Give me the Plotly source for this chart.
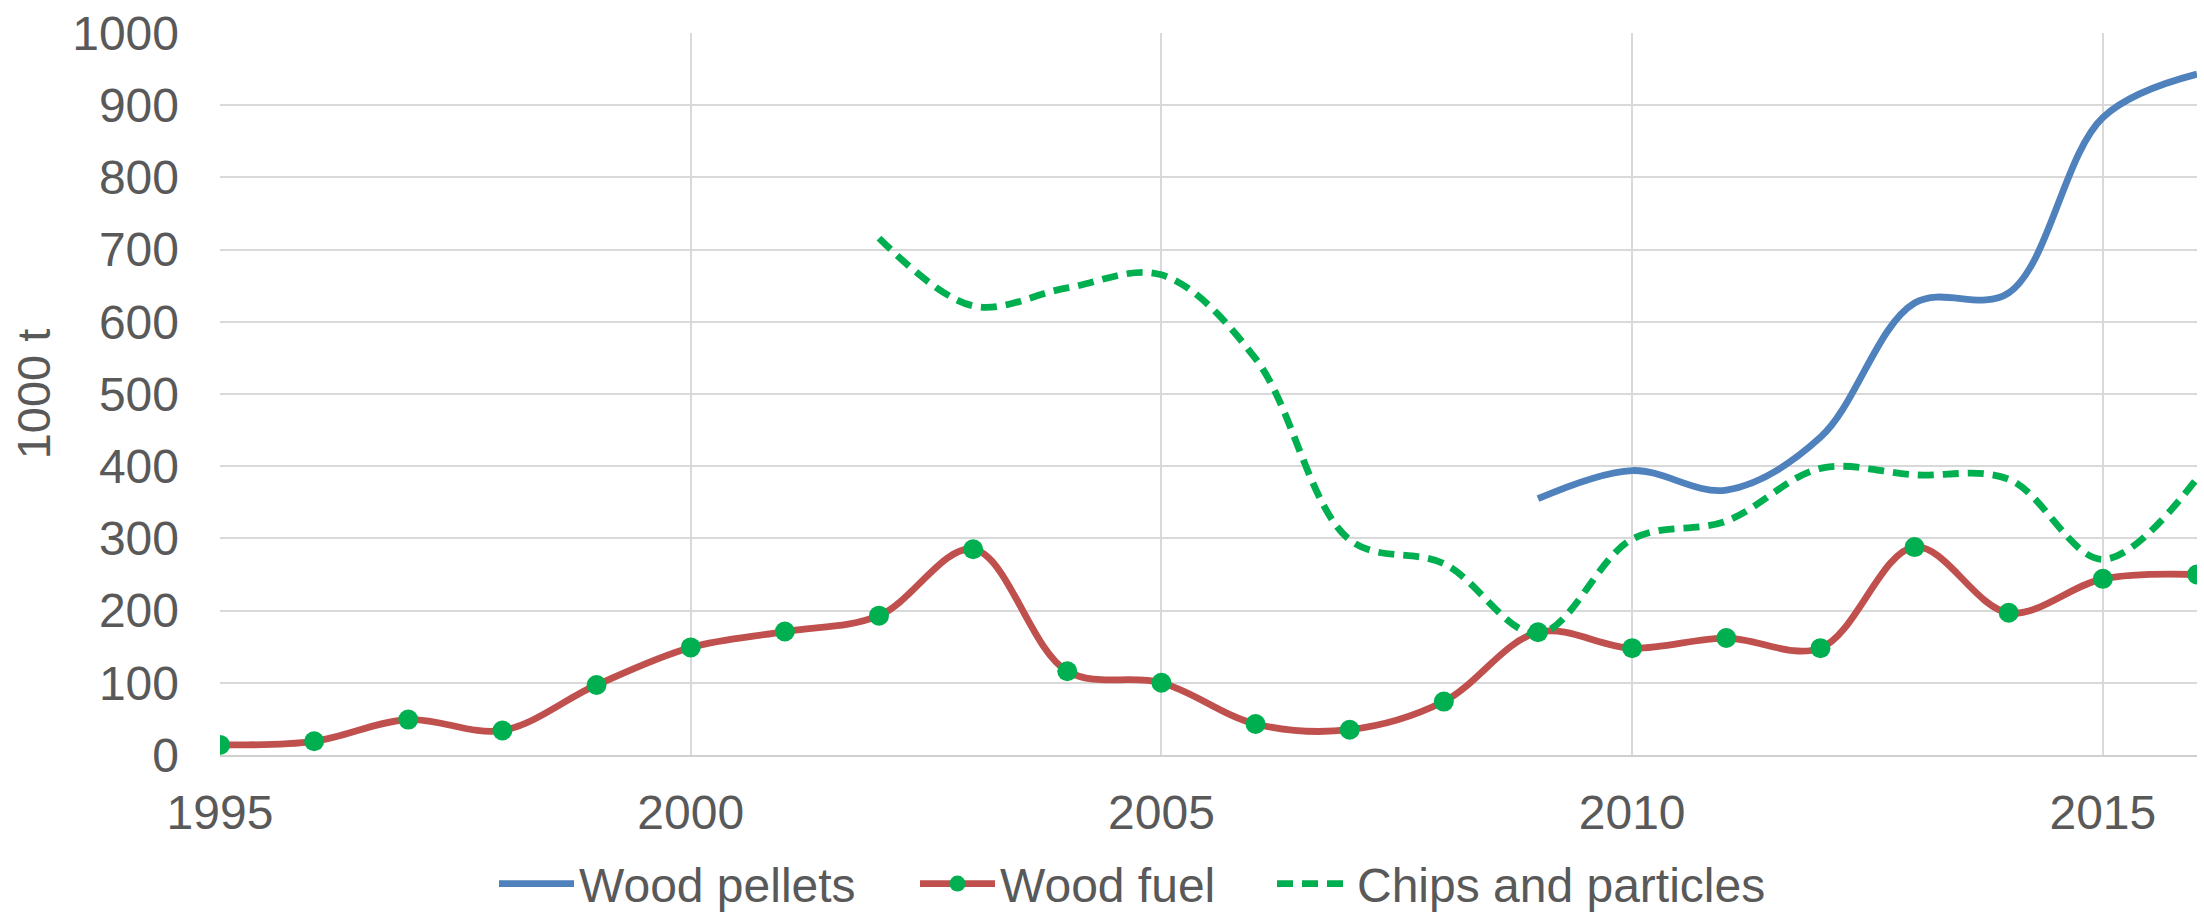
import plotly.graph_objects as go

# Annual volumes, 1000 t
years = list(range(1995, 2017))

wood_pellets = [None] * 14 + [355, 394, 367, 440, 626, 640, 883, 943]

wood_fuel = [14, 19, 49, 34, 97, 149, 171, 193, 285, 116, 100,
             43, 35, 74, 170, 148, 162, 148, 288, 197, 244, 250]

chips_particles = [None] * 7 + [716, 622, 647, 665, 549, 298, 265,
                                168, 299, 324, 397, 388, 382, 271, 383]

x_ticks = [1995, 2000, 2005, 2010, 2015]
y_ticks = list(range(0, 1001, 100))

FONT = "Liberation Sans, Arial, sans-serif"
TEXT = "#595959"
GRID = "#D9D9D9"
LW = 6.8

fig = go.Figure()

fig.add_trace(go.Scatter(
    x=years, y=wood_pellets, name="Wood pellets", mode="lines",
    line=dict(color="#4F81BD", width=LW, shape="spline", smoothing=1.0),
    connectgaps=False, legend="legend",
))
fig.add_trace(go.Scatter(
    x=years, y=wood_fuel, name="Wood fuel", mode="lines+markers",
    line=dict(color="#C0504D", width=LW, shape="spline", smoothing=1.0),
    marker=dict(color="#00B050", size=20, line=dict(width=0)),
    legend="legend2",
))
fig.add_trace(go.Scatter(
    x=years, y=chips_particles, name="Chips and particles", mode="lines",
    line=dict(color="#00B050", width=LW, shape="spline", smoothing=1.0,
              dash="16px,9px"),
    connectgaps=False, legend="legend3",
))


def legend_box(x_px):
    return dict(
        orientation="h", xref="container", yref="container",
        x=x_px / 2204, xanchor="left", y=0.033, yanchor="middle",
        font=dict(family=FONT, size=48, color=TEXT),
        itemwidth=75, itemsizing="trace",
        bgcolor="rgba(0,0,0,0)", borderwidth=0,
    )


fig.update_layout(
    width=2204, height=914,
    margin=dict(l=220, r=7, t=30, b=159),
    paper_bgcolor="white", plot_bgcolor="white",
    font=dict(family=FONT, size=48, color=TEXT),
    showlegend=True,
    legend=legend_box(494),
    legend2=legend_box(915),
    legend3=legend_box(1272),
    xaxis=dict(
        range=[1995, 2016], tickmode="array", tickvals=x_ticks,
        ticktext=[str(v) for v in x_ticks],
        showgrid=True, gridcolor=GRID, gridwidth=2,
        showline=True, linecolor="#D0D0D0", linewidth=2,
        zeroline=False, ticks="", ticklabelstandoff=14,
        tickfont=dict(family=FONT, size=48, color=TEXT),
    ),
    yaxis=dict(
        range=[0, 1000], tickmode="array", tickvals=y_ticks,
        showgrid=True, gridcolor=GRID, gridwidth=2,
        zeroline=False, showline=False, ticks="", ticklabelstandoff=40,
        tickfont=dict(family=FONT, size=48, color=TEXT),
        title=dict(text="1000 t", standoff=6,
                   font=dict(family=FONT, size=47, color=TEXT)),
    ),
)

fig.write_html("out.html")
